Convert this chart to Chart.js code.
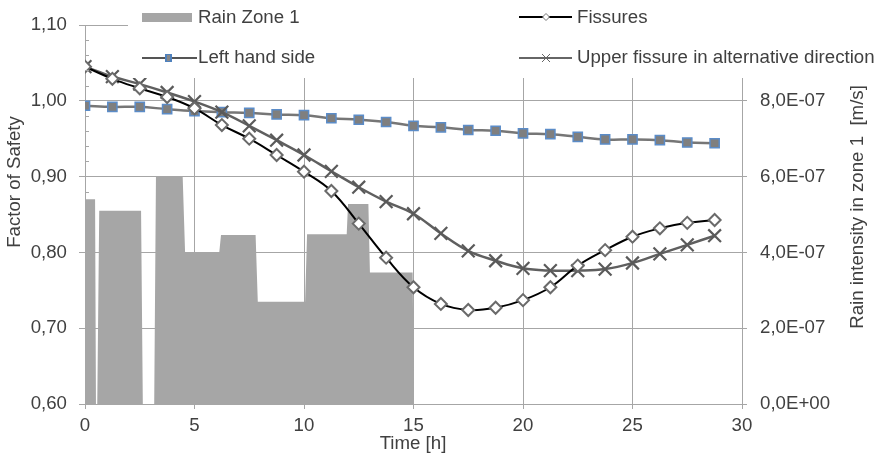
<!DOCTYPE html>
<html><head><meta charset="utf-8">
<script src="https://cdn.jsdelivr.net/npm/chart.js@4.4.1/dist/chart.umd.min.js"></script>
<style>html,body{margin:0;padding:0;background:#fff;}#wrap{width:882px;height:457px;}</style>
</head><body><div id="wrap"><canvas id="c" width="882" height="457"></canvas></div>
<script>
// ---- data ----
const timeH = [0, 1.25, 2.5, 3.75, 5, 6.25, 7.5, 8.75, 10, 11.25, 12.5, 13.75, 15, 16.25, 17.5, 18.75, 20, 21.25, 22.5, 23.75, 25, 26.25, 27.5, 28.75];
const fissures = [1.045, 1.029, 1.0165, 1.005, 0.990, 0.968, 0.950, 0.9285, 0.9065, 0.881, 0.838, 0.793, 0.754, 0.732, 0.724, 0.727, 0.737, 0.754, 0.7825, 0.803, 0.8207, 0.8318, 0.839, 0.8427];
const leftHandSide = [0.9935, 0.992, 0.992, 0.989, 0.9865, 0.985, 0.984, 0.982, 0.981, 0.977, 0.975, 0.972, 0.967, 0.965, 0.9615, 0.9605, 0.957, 0.956, 0.9525, 0.949, 0.949, 0.948, 0.945, 0.944];
const upperFissure = [1.045, 1.032, 1.022, 1.011, 0.999, 0.985, 0.967, 0.948, 0.9285, 0.907, 0.886, 0.867, 0.851, 0.825, 0.802, 0.789, 0.779, 0.776, 0.776, 0.778, 0.786, 0.798, 0.810, 0.822];
const rainTime = [0, 0.46, 0.50, 0.56, 0.65, 2.56, 2.64, 3.16, 3.24, 4.46, 4.57, 6.13, 6.21, 7.79, 7.89, 10.05, 10.14, 11.95, 12.01, 12.94, 13.01, 14.96, 15.02];
const rainRate = [5.4e-7, 5.4e-7, 0, 0, 5.1e-7, 5.1e-7, 0, 0, 6.0e-7, 6.0e-7, 4.0e-7, 4.0e-7, 4.46e-7, 4.46e-7, 2.7e-7, 2.7e-7, 4.48e-7, 4.48e-7, 5.28e-7, 5.28e-7, 3.47e-7, 3.47e-7, 0];
const seriesNames = ['Rain Zone 1', 'Fissures', 'Left hand side', 'Upper fissure in alternative direction'];
const xTitle = 'Time [h]';
const yTitle = 'Factor of Safety';
const y2Title = 'Rain intensity in zone 1  [m/s]';

// ---- helpers ----
const FONT = "'Liberation Sans', Arial, sans-serif";
const FS = 18.67;
const TXT = '#404040';
const GRID = '#a6a6a6';
const pts = (xs, ys) => xs.map((x, i) => ({x: x, y: ys[i]}));
function sci(v) {
  if (v > 9.9e-7) return '';
  const parts = v.toExponential(1).split('e');
  const n = parseInt(parts[1], 10);
  return parts[0].replace('.', ',') + 'E' + (n < 0 ? '-' : '+') + String(Math.abs(n)).padStart(2, '0');
}

const overlay = {
  id: 'overlay',
  afterDraw(chart) {
    const ctx = chart.ctx;
    const ys = chart.scales.y;
    const ca = chart.chartArea;
    ctx.save();
    // minor ticks on left axis
    ctx.strokeStyle = GRID; ctx.lineWidth = 1;
    for (let i = 31; i < 55; i++) {
      if (i % 5 === 0) continue;
      const py = Math.round(ys.getPixelForValue(i * 0.02)) + 0.5;
      ctx.beginPath(); ctx.moveTo(ca.left, py); ctx.lineTo(ca.left + 4, py); ctx.stroke();
    }
    // legend box
    ctx.fillStyle = '#fff';
    ctx.fillRect(128, 0, 754, 78);
    ctx.font = FS + 'px ' + FONT;
    ctx.fillStyle = TXT;
    ctx.textBaseline = 'middle';
    ctx.textAlign = 'left';
    // rain
    ctx.fillStyle = '#a6a6a6';
    ctx.fillRect(142, 13, 50, 9);
    ctx.fillStyle = TXT;
    ctx.fillText(seriesNames[0], 198, 18);
    // fissures
    ctx.strokeStyle = '#000'; ctx.lineWidth = 2;
    ctx.beginPath(); ctx.moveTo(519, 17); ctx.lineTo(572, 17); ctx.stroke();
    ctx.fillStyle = '#fff'; ctx.strokeStyle = '#777'; ctx.lineWidth = 1;
    ctx.beginPath(); ctx.moveTo(546, 13.5); ctx.lineTo(549.5, 17); ctx.lineTo(546, 20.5); ctx.lineTo(542.5, 17); ctx.closePath(); ctx.fill(); ctx.stroke();
    ctx.fillStyle = TXT;
    ctx.fillText(seriesNames[1], 577, 18);
    // left hand side
    ctx.strokeStyle = '#555'; ctx.lineWidth = 2;
    ctx.beginPath(); ctx.moveTo(142, 58); ctx.lineTo(197, 58); ctx.stroke();
    ctx.fillStyle = '#4f81bd'; ctx.fillRect(165, 54, 7, 8);
    ctx.fillStyle = '#888'; ctx.fillRect(167, 55, 3, 6);
    ctx.fillStyle = TXT;
    ctx.fillText(seriesNames[2], 198, 58);
    // upper fissure
    ctx.strokeStyle = '#666'; ctx.lineWidth = 2;
    ctx.beginPath(); ctx.moveTo(519, 58); ctx.lineTo(572, 58); ctx.stroke();
    ctx.lineWidth = 1;
    ctx.beginPath(); ctx.moveTo(542, 54); ctx.lineTo(550, 62); ctx.moveTo(550, 54); ctx.lineTo(542, 62); ctx.stroke();
    ctx.fillStyle = TXT;
    ctx.fillText(seriesNames[3], 577, 58);
    // axis titles
    ctx.textAlign = 'center';
    ctx.textBaseline = 'alphabetic';
    ctx.fillText(xTitle, 413, 449);
    ctx.textBaseline = 'middle';
    ctx.save(); ctx.translate(15, 182); ctx.rotate(-Math.PI / 2); ctx.fillText(yTitle, 0, 0); ctx.restore();
    ctx.save(); ctx.translate(858, 207); ctx.rotate(-Math.PI / 2); ctx.fillText(y2Title, 0, 0); ctx.restore();
    ctx.restore();
  }
};

new Chart(document.getElementById('c'), {
  type: 'line',
  data: {
    datasets: [
      {label: seriesNames[1], data: pts(timeH, fissures), yAxisID: 'y', borderColor: '#000', borderWidth: 2,
       tension: 0.4, pointStyle: 'rectRot', pointRadius: 6, pointBackgroundColor: '#fff', pointBorderColor: '#6a6a6a', pointBorderWidth: 2},
      {label: seriesNames[3], data: pts(timeH, upperFissure), yAxisID: 'y', borderColor: '#5f5f5f', borderWidth: 2.5,
       tension: 0.4, pointStyle: 'crossRot', pointRadius: 9, pointBorderColor: '#5a5a5a', pointBorderWidth: 2.2},
      {label: seriesNames[2], data: pts(timeH, leftHandSide), yAxisID: 'y', borderColor: '#767676', borderWidth: 2.5,
       tension: 0.4, pointStyle: 'rect', pointRadius: 6.5, pointBackgroundColor: '#7f7f7f', pointBorderColor: '#5b8cc8', pointBorderWidth: 1.5},
      {label: seriesNames[0], data: pts(rainTime, rainRate), yAxisID: 'y2', borderWidth: 0, borderColor: 'rgba(0,0,0,0)',
       backgroundColor: '#a6a6a6', fill: 'origin', pointRadius: 0, tension: 0}
    ]
  },
  options: {
    responsive: false,
    animation: false,
    devicePixelRatio: 1,
    layout: {padding: {top: 25, left: 0, right: 0, bottom: 0}},
    plugins: {legend: {display: false}, tooltip: {enabled: false}},
    scales: {
      x: {
        type: 'linear', min: 0, max: 30,
        ticks: {stepSize: 5, color: TXT, font: {size: FS, family: FONT}, padding: 6, autoSkip: false, maxRotation: 0},
        grid: {color: GRID, tickLength: 5, lineWidth: 1},
        border: {color: GRID},
        afterFit: s => { s.height = 53; }
      },
      y: {
        position: 'left', min: 0.6, max: 1.1,
        ticks: {stepSize: 0.1, color: TXT, font: {size: FS, family: FONT}, padding: 12,
                callback: v => v.toFixed(2).replace('.', ',')},
        grid: {color: GRID, tickLength: 6, lineWidth: 1},
        border: {color: GRID},
        afterFit: s => { s.width = 85; }
      },
      y2: {
        position: 'right', min: 0, max: 1e-6,
        ticks: {stepSize: 2e-7, color: TXT, font: {size: FS, family: FONT}, padding: 13, callback: v => sci(v)},
        grid: {drawOnChartArea: false, color: GRID, tickLength: 5},
        border: {color: GRID},
        afterFit: s => { s.width = 140; }
      }
    }
  },
  plugins: [overlay]
});
</script>
</body></html>
